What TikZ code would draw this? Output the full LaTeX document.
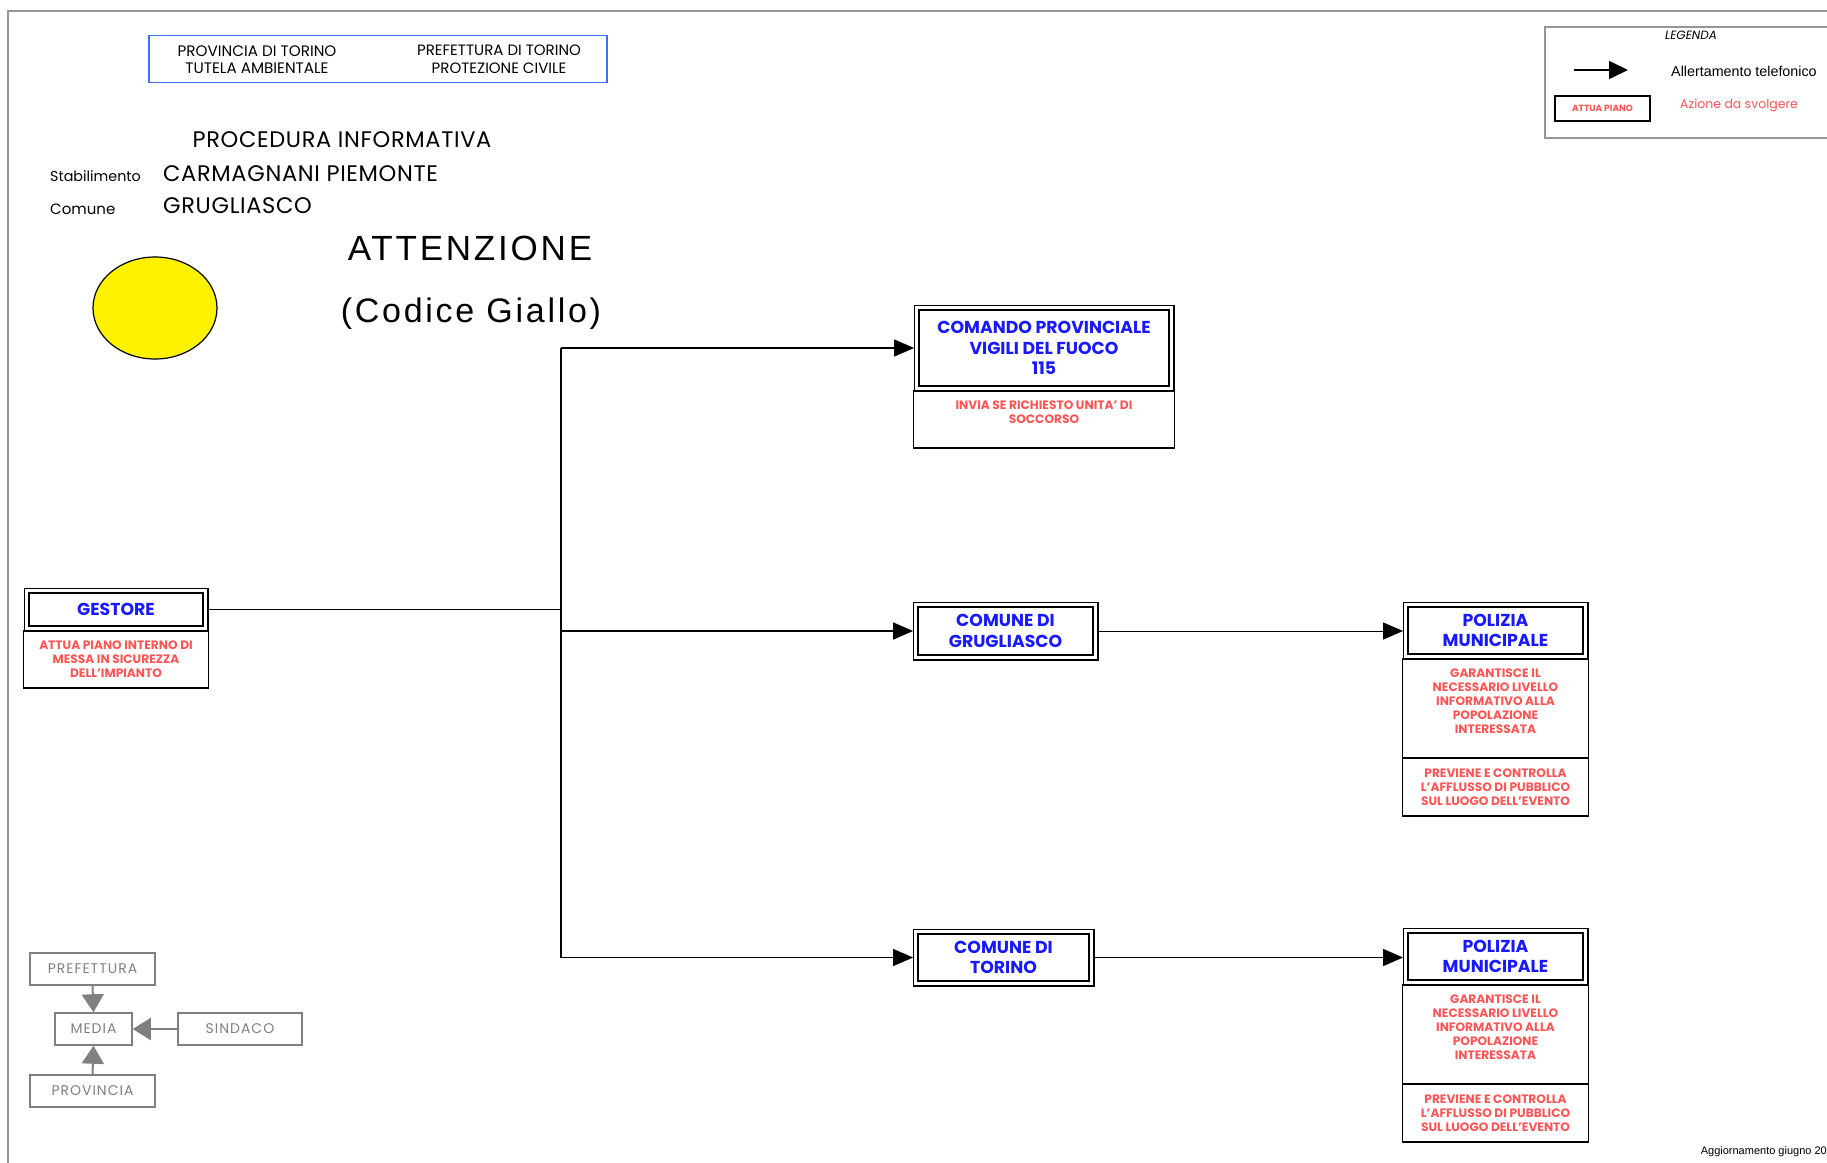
\documentclass[tikz,border=0pt]{standalone}
\usepackage{fontspec}
\setmainfont{Poppins}
\newfontfamily\arialf{Liberation Sans}
\newfontfamily\attf[LetterSpace=8]{Liberation Sans}
\newfontfamily\popsp[LetterSpace=3]{Poppins}
\newfontfamily\popgr[LetterSpace=7]{Poppins}
\usetikzlibrary{arrows.meta,fit,shapes.geometric}
\definecolor{tblue}{RGB}{25,25,255}
\definecolor{tred}{RGB}{255,85,85}
\definecolor{hblue}{RGB}{60,110,255}
\definecolor{lgray}{RGB}{128,128,128}
\definecolor{bgray}{RGB}{150,150,150}
\begin{document}
\begin{tikzpicture}[x=1pt,y=-1pt,
 inbox/.style={draw, line width=2.6pt, inner sep=0pt, align=center, text=tblue,
   font=\bfseries\fontsize{17.3}{20.5}\selectfont},
 outbox/.style={draw, line width=1.2pt, inner sep=3.6pt, outer sep=0pt, fit=#1},
 descbox/.style={draw, line width=1.5pt, inner sep=0pt, outer sep=0pt, align=center, text=tred,
   font=\bfseries\fontsize{12.2}{14}\selectfont, anchor=north},
 conn/.style={line width=1.3pt},
 arr/.style={conn,-{Triangle[length=20pt,width=17pt]}},
 gbox/.style={draw=lgray, line width=2.4pt, text=lgray, font=\popgr\fontsize{14}{15}\selectfont,
   minimum height=32pt, inner sep=0pt},
 garr/.style={draw=lgray, line width=2pt, -{Triangle[length=18pt,width=22pt]}},
 plain/.style={inner sep=0pt},
]
\clip (0,0) rectangle (1827,1162);
\fill[white] (0,0) rectangle (1827,1162);
% page frame
\draw[bgray, line width=2pt] (8,1170) -- (8,10.5) -- (1840,10.5);

% header
\node[draw=hblue, line width=1.5pt, minimum width=458pt, minimum height=47pt, inner sep=0pt] (hdr) at (378,59) {};
\node[plain, align=center, font=\fontsize{15.2}{17.5}\selectfont] (prov) at (257,59.5) {PROVINCIA DI TORINO\\TUTELA AMBIENTALE};
\node[plain, align=center, font=\fontsize{15}{17.5}\selectfont] (pref) at (499,59.5) {PREFETTURA DI TORINO\\PROTEZIONE CIVILE};

% titles
\node[plain, font=\popsp\fontsize{22.5}{24}\selectfont] (proc) at (342,140) {PROCEDURA INFORMATIVA};
\node[plain, anchor=west, font=\fontsize{14.3}{16}\selectfont] (stab) at (50,176) {Stabilimento};
\node[plain, anchor=west, font=\popsp\fontsize{22.5}{24}\selectfont] (carm) at (163,174) {CARMAGNANI PIEMONTE};
\node[plain, anchor=west, font=\fontsize{15}{16}\selectfont] (com) at (50,209) {Comune};
\node[plain, anchor=west, font=\popsp\fontsize{22.5}{24}\selectfont] (grug) at (163,206) {GRUGLIASCO};
\node[plain, font=\attf\fontsize{35}{38}\selectfont] (att) at (470,248) {ATTENZIONE};
\node[plain, font=\attf\fontsize{34}{38}\selectfont] (cod) at (471,314) {(Codice Giallo)};

% yellow circle
\node[draw, line width=1.2pt, fill=yellow, ellipse, minimum width=124pt, minimum height=102pt, inner sep=0pt] (sun) at (155,308) {};

% legend
\draw[bgray, line width=1.5pt] (1545,27) rectangle (1840,138);
\node[plain, font=\itshape\fontsize{12}{14}\selectfont] (leg) at (1691,35) {LEGENDA};
\coordinate (la) at (1574,70);
\coordinate (lb) at (1628,70);
\draw[line width=1.5pt, -{Triangle[length=19pt,width=18pt]}] (la) -- (lb);
\node[plain, anchor=west, font=\arialf\fontsize{14.3}{16}\selectfont] (allt) at (1671,71) {Allertamento telefonico};
\node[draw, line width=1.8pt, minimum width=95pt, minimum height=25pt, inner sep=0pt, text=tred,
  font=\bfseries\fontsize{9}{11}\selectfont] (attua) at (1602.5,108.5) {ATTUA PIANO};
\node[plain, anchor=west, text=tred, font=\fontsize{12.5}{14}\selectfont] (azi) at (1680,105) {Azione da svolgere};

% GESTORE
\node[inbox, minimum width=174pt, minimum height=33pt] (gi) at (116,609.5) {GESTORE};
\node[outbox=(gi)] (go) {};
\node[descbox, minimum width=185pt, minimum height=57pt] (gd) at (go.south) {ATTUA PIANO INTERNO DI\\MESSA IN SICUREZZA\\DELL'IMPIANTO};

% COMANDO
\node[inbox, minimum width=250pt, minimum height=76pt] (ci) at (1044,348) {COMANDO PROVINCIALE\\VIGILI DEL FUOCO\\115};
\node[outbox=(ci)] (co) {};
\node[descbox, minimum width=261pt, minimum height=57pt] (cd) at (co.south) {INVIA SE RICHIESTO UNITA' DI\\SOCCORSO\\\mbox{}};

% COMUNE DI GRUGLIASCO
\node[inbox, minimum width=175pt, minimum height=48pt] (ggi) at (1005.5,631) {COMUNE DI\\GRUGLIASCO};
\node[outbox=(ggi)] (ggo) {};

% COMUNE DI TORINO
\node[inbox, minimum width=171pt, minimum height=47pt] (ti) at (1003.5,957.5) {COMUNE DI\\TORINO};
\node[outbox=(ti)] (to) {};

% POLIZIA 1
\node[inbox, minimum width=175pt, minimum height=47pt] (p1i) at (1495.5,630.5) {POLIZIA\\MUNICIPALE};
\node[outbox=(p1i)] (p1o) {};
\node[descbox, minimum width=186pt, minimum height=99pt] (p1d) at (p1o.south) {GARANTISCE IL\\NECESSARIO LIVELLO\\INFORMATIVO ALLA\\POPOLAZIONE\\INTERESSATA\\\mbox{}};
\node[descbox, minimum width=186pt, minimum height=58pt] (p1e) at (p1d.south) {PREVIENE E CONTROLLA\\L'AFFLUSSO DI PUBBLICO\\SUL LUOGO DELL'EVENTO};

% POLIZIA 2
\node[inbox, minimum width=175pt, minimum height=47pt] (p2i) at (1495.5,956.5) {POLIZIA\\MUNICIPALE};
\node[outbox=(p2i)] (p2o) {};
\node[descbox, minimum width=186pt, minimum height=99pt] (p2d) at (p2o.south) {GARANTISCE IL\\NECESSARIO LIVELLO\\INFORMATIVO ALLA\\POPOLAZIONE\\INTERESSATA\\\mbox{}};
\node[descbox, minimum width=186pt, minimum height=58pt] (p2e) at (p2d.south) {PREVIENE E CONTROLLA\\L'AFFLUSSO DI PUBBLICO\\SUL LUOGO DELL'EVENTO};

% connectors
\coordinate (tr) at (561,0);
\draw[line width=1.8pt] (go.east) -- (go.east -| tr);
\draw[conn] (co.west -| tr) -- (to.west -| tr);
\draw[arr] (co.west -| tr) -- (co.west);
\draw[arr] (ggo.west -| tr) -- (ggo.west);
\draw[arr] (to.west -| tr) -- (to.west);
\draw[line width=1pt, -{Triangle[length=20pt,width=17pt]}] (ggo.east) -- (ggo.east -| p1o.west);
\draw[arr] (to.east) -- (to.east -| p2o.west);

% grey media diagram
\node[gbox, minimum width=125pt] (gpref) at (92.5,969) {PREFETTURA};
\node[gbox, line width=1.5pt, minimum width=77pt] (gmedia) at (93.5,1029) {MEDIA};
\node[gbox, minimum width=124pt] (gsind) at (240,1029) {SINDACO};
\node[gbox, minimum width=125pt] (gprov) at (92.5,1091) {PROVINCIA};
\draw[garr] (gpref.south) -- (gmedia.north);
\draw[garr] (gsind.west) -- (gmedia.east);
\draw[garr] (gprov.north) -- (gmedia.south);

% footer
\node[plain, anchor=east, font=\arialf\fontsize{11}{13}\selectfont] (foot) at (1827,1152) {Aggiornamento giugno 20};
\end{tikzpicture}
\end{document}
